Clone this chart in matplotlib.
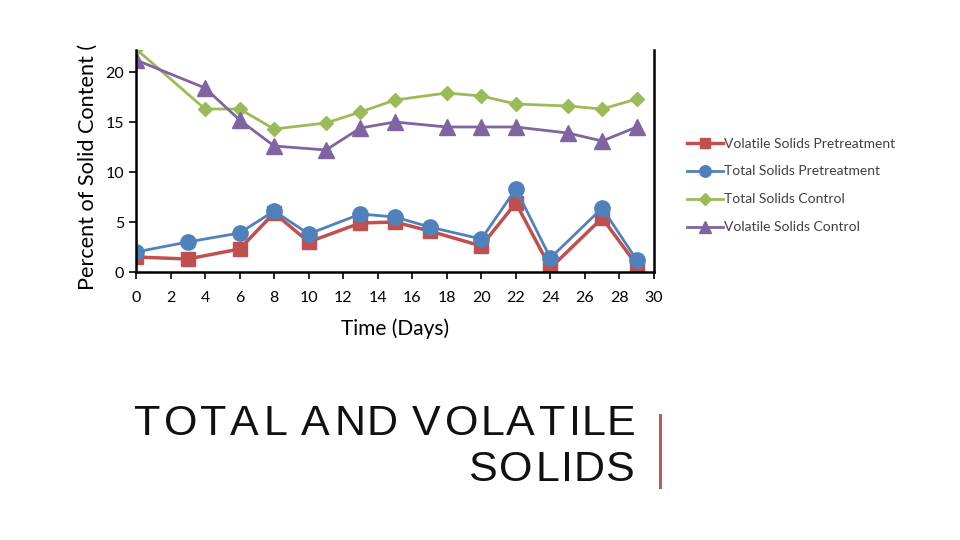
import matplotlib
matplotlib.use("Agg")
import matplotlib.pyplot as plt
from matplotlib.lines import Line2D
from matplotlib.textpath import TextPath
from matplotlib.font_manager import FontProperties

days_pre = [0, 3, 6, 8, 10, 13, 15, 17, 20, 22, 24, 27, 29]
vs_pre = [1.5, 1.3, 2.3, 5.9, 3.0, 4.9, 5.0, 4.1, 2.6, 6.9, 0.4, 5.4, 0.7]
ts_pre = [2.0, 3.0, 3.9, 6.1, 3.8, 5.8, 5.5, 4.5, 3.3, 8.3, 1.4, 6.4, 1.2]

days_ctl = [0, 4, 6, 8, 11, 13, 15, 18, 20, 22, 25, 27, 29]
ts_ctl = [22.3, 16.3, 16.3, 14.3, 14.9, 16.0, 17.2, 17.9, 17.6, 16.8, 16.6, 16.3, 17.3]
vs_ctl = [21.2, 18.4, 15.2, 12.6, 12.2, 14.4, 15.0, 14.5, 14.5, 14.5, 13.9, 13.1, 14.5]

labels = ["Volatile Solids Pretreatment", "Total Solids Pretreatment",
          "Total Solids Control", "Volatile Solids Control"]
xticks = list(range(0, 31, 2))
yticks = [0, 5, 10, 15, 20]
title_lines = ["TOTAL AND VOLATILE", "SOLIDS"]

plt.rcParams['font.family'] = ['Lato', 'DejaVu Sans']

W, H = 960, 540
fig = plt.figure(figsize=(9.6, 5.4), dpi=100)
ax = fig.add_axes([136/W, 1-272/H, (654-136)/W, (272-50)/H])

ax.plot(days_pre, vs_pre, color='#C0504D', marker='s', markersize=10, lw=2.5, label=labels[0])
ax.plot(days_pre, ts_pre, color='#4F81BD', marker='o', markersize=11, lw=2, label=labels[1])
ax.plot(days_ctl, ts_ctl, color='#9BBB59', marker='D', markersize=7.5, lw=2, label=labels[2])
ax.plot(days_ctl, vs_ctl, color='#8064A2', marker='^', markersize=11, lw=2, label=labels[3])

ax.set_xlim(0, 30)
ax.set_ylim(0, 22.2)
ax.set_xticks(xticks)
ax.set_yticks(yticks)
ax.tick_params(axis='both', direction='out', length=5, width=1.2, labelsize=11.5, colors='black')
ax.tick_params(axis='x', pad=9)
ax.spines['top'].set_visible(False)
for s in ['left', 'bottom', 'right']:
    ax.spines[s].set_linewidth(1.8)
ax.set_xlabel("Time (Days)", fontsize=15, labelpad=9)

fig.text(88/W, 1-290/H, "Percent of Solid Content (", rotation=90,
         fontsize=15.6, ha='center', va='bottom')

leg = ax.legend(loc='upper left', bbox_to_anchor=(674/W, 1-125/H),
                bbox_transform=fig.transFigure, frameon=False, fontsize=10,
                handlelength=2.6, labelspacing=1.15, handletextpad=0.1,
                markerscale=0.75)
for t in leg.get_texts():
    t.set_color('#404040')

# Title with letter tracking
fp = FontProperties(family='Liberation Sans', size=31)
px_per_pt = 100 / 72.0
tracking = 0.8  # px between letters
right_x = 636
for line, yc in zip(title_lines, [424, 470]):
    widths = []
    for ch in line:
        if ch == ' ':
            w = TextPath((0, 0), 'a a', prop=fp).get_extents().width - TextPath((0, 0), 'aa', prop=fp).get_extents().width
        else:
            w = TextPath((0, 0), ch + '|', prop=fp).get_extents().width - TextPath((0, 0), '|', prop=fp).get_extents().width
        widths.append(w * px_per_pt)
    total = sum(widths) + tracking * (len(line) - 1)
    x = right_x - total
    for ch, w in zip(line, widths):
        if ch != ' ':
            fig.text(x / W, 1 - yc / H, ch, fontproperties=fp, color='#111111',
                     ha='left', va='center')
        x += w + tracking

fig.add_artist(Line2D([660/W, 660/W], [1-415/H, 1-487/H],
                      color='#B0615E', lw=2.2, transform=fig.transFigure))

fig.savefig("out.png", dpi=100)
